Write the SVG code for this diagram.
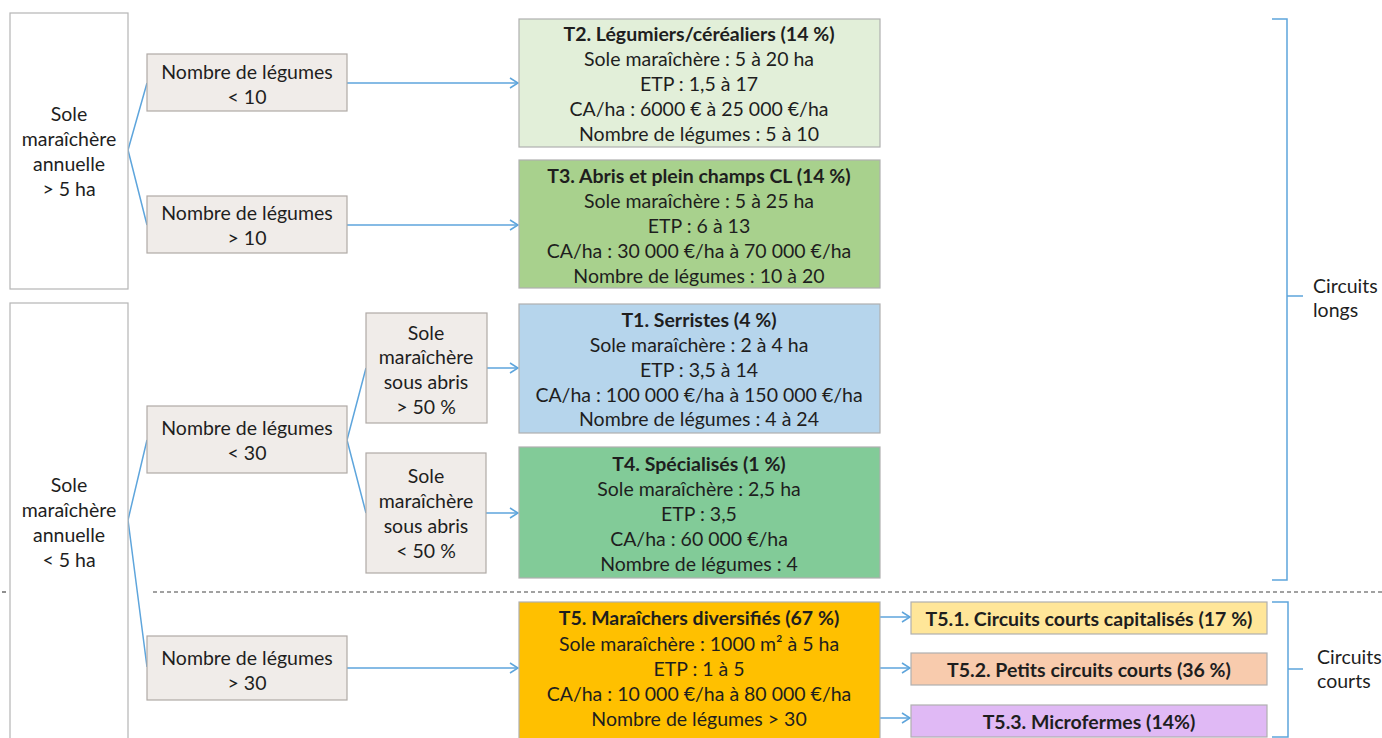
<svg xmlns="http://www.w3.org/2000/svg" width="1382" height="738" viewBox="0 0 1382 738">
<defs>
<style>
text{font-family:Lato,"Open Sans","Liberation Sans",sans-serif;font-size:19.5px;fill:#1e1e1e;text-anchor:middle;dominant-baseline:central}
.b{font-weight:bold}
.l{text-anchor:start}
.frame{fill:#fff;stroke:#b5b5b5;stroke-width:1.2}
.crit{fill:#f0ece9;stroke:#b0aaa6;stroke-width:1.2}
.type{stroke:#b0b0b0;stroke-width:1.2}
.con{fill:none;stroke:#5ea5dc;stroke-width:1.5}
.dash{stroke:#444;stroke-width:1.2;stroke-dasharray:4 3}
</style>
<marker id="arr" markerUnits="userSpaceOnUse" markerWidth="12" markerHeight="12" refX="10" refY="6" orient="auto">
<path d="M2,1 L10,6 L2,11" fill="none" stroke="#5ea5dc" stroke-width="1.5"/>
</marker>
</defs>
<rect width="1382" height="738" fill="#fff"/>
<line class="dash" x1="153" y1="592" x2="1382" y2="592"/>
<line class="dash" x1="2" y1="592" x2="8" y2="592"/>

<g id="connectors">
<path class="con" d="M128,150 L147,83 M128,150 L147,225"/>
<path class="con" d="M128,520 L147,440 M128,520 L147,667"/>
<path class="con" d="M347,440 L366,368 M347,440 L366,513"/>
<path class="con" d="M347,83 L518,83" marker-end="url(#arr)"/>
<path class="con" d="M347,225 L518,225" marker-end="url(#arr)"/>
<path class="con" d="M487,368 L518,368" marker-end="url(#arr)"/>
<path class="con" d="M486,513 L518,513" marker-end="url(#arr)"/>
<path class="con" d="M347,668 L518,668" marker-end="url(#arr)"/>
<path class="con" d="M880,617 L910,617" marker-end="url(#arr)"/>
<path class="con" d="M880,668 L910,668" marker-end="url(#arr)"/>
<path class="con" d="M880,718 L910,718" marker-end="url(#arr)"/>
<path class="con" d="M1272,19 L1287,19 L1287,580 L1272,580 M1287,296 L1303,296"/>
<path class="con" d="M1272,602 L1288,602 L1288,737 L1272,737 M1288,669 L1303,669"/>
</g>

<g id="soleA">
<rect class="frame" x="10" y="13" width="118" height="276"/>
<text x="69" y="113">Sole</text>
<text x="69" y="138">maraîchère</text>
<text x="69" y="163">annuelle</text>
<text x="69" y="188">&gt; 5 ha</text>
</g>
<g id="soleB">
<rect class="frame" x="10" y="303" width="118" height="445"/>
<text x="69" y="484">Sole</text>
<text x="69" y="509">maraîchère</text>
<text x="69" y="534">annuelle</text>
<text x="69" y="559">&lt; 5 ha</text>
</g>

<g id="nl10">
<rect class="crit" x="147" y="54" width="200" height="57"/>
<text x="247" y="71">Nombre de légumes</text>
<text x="247" y="96">&lt; 10</text>
</g>
<g id="ng10">
<rect class="crit" x="147" y="196" width="200" height="57"/>
<text x="247" y="212">Nombre de légumes</text>
<text x="247" y="237">&gt; 10</text>
</g>
<g id="nl30">
<rect class="crit" x="147" y="406" width="200" height="67"/>
<text x="247" y="427">Nombre de légumes</text>
<text x="247" y="452">&lt; 30</text>
</g>
<g id="ng30">
<rect class="crit" x="147" y="636" width="200" height="64"/>
<text x="247" y="657">Nombre de légumes</text>
<text x="247" y="682">&gt; 30</text>
</g>
<g id="abris50plus">
<rect class="crit" x="366" y="313" width="121" height="110"/>
<text x="426" y="332">Sole</text>
<text x="426" y="356">maraîchère</text>
<text x="426" y="381">sous abris</text>
<text x="426" y="406">&gt; 50 %</text>
</g>
<g id="abris50minus">
<rect class="crit" x="366" y="453" width="120" height="120"/>
<text x="426" y="475">Sole</text>
<text x="426" y="500">maraîchère</text>
<text x="426" y="525">sous abris</text>
<text x="426" y="550">&lt; 50 %</text>
</g>

<g id="T2">
<rect class="type" x="519" y="19" width="361" height="128" fill="#e2efd9"/>
<text class="b" x="699" y="33">T2. Légumiers/céréaliers (14 %)</text>
<text x="699" y="58">Sole maraîchère : 5 à 20 ha</text>
<text x="699" y="83">ETP : 1,5 à 17</text>
<text x="699" y="108">CA/ha : 6000 € à 25 000 €/ha</text>
<text x="699" y="133">Nombre de légumes : 5 à 10</text>
</g>
<g id="T3">
<rect class="type" x="519" y="160" width="361" height="128" fill="#a8d18d"/>
<text class="b" x="699" y="175">T3. Abris et plein champs CL (14 %)</text>
<text x="699" y="200">Sole maraîchère : 5 à 25 ha</text>
<text x="699" y="225">ETP : 6 à 13</text>
<text x="699" y="250">CA/ha : 30 000 €/ha à 70 000 €/ha</text>
<text x="699" y="275">Nombre de légumes : 10 à 20</text>
</g>
<g id="T1">
<rect class="type" x="519" y="304" width="361" height="129" fill="#b6d5ec"/>
<text class="b" x="699" y="319">T1. Serristes (4 %)</text>
<text x="699" y="344">Sole maraîchère : 2 à 4 ha</text>
<text x="699" y="369">ETP : 3,5 à 14</text>
<text x="699" y="394">CA/ha : 100 000 €/ha à 150 000 €/ha</text>
<text x="699" y="418">Nombre de légumes : 4 à 24</text>
</g>
<g id="T4">
<rect class="type" x="519" y="447" width="361" height="131" fill="#82cb98"/>
<text class="b" x="699" y="463">T4. Spécialisés (1 %)</text>
<text x="699" y="488">Sole maraîchère : 2,5 ha</text>
<text x="699" y="513">ETP : 3,5</text>
<text x="699" y="538">CA/ha : 60 000 €/ha</text>
<text x="699" y="563">Nombre de légumes : 4</text>
</g>
<g id="T5">
<rect class="type" x="519" y="602" width="361" height="146" fill="#ffc000"/>
<text class="b" x="699" y="617">T5. Maraîchers diversifiés (67 %)</text>
<text x="699" y="643">Sole maraîchère : 1000 m² à 5 ha</text>
<text x="699" y="668">ETP : 1 à 5</text>
<text x="699" y="693">CA/ha : 10 000 €/ha à 80 000 €/ha</text>
<text x="699" y="718">Nombre de légumes &gt; 30</text>
</g>
<g id="T51">
<rect class="type" x="911" y="602" width="356" height="32" fill="#ffe699"/>
<text class="b" x="1089" y="618">T5.1. Circuits courts capitalisés (17 %)</text>
</g>
<g id="T52">
<rect class="type" x="911" y="653" width="356" height="32" fill="#f8cbad"/>
<text class="b" x="1089" y="669">T5.2. Petits circuits courts (36 %)</text>
</g>
<g id="T53">
<rect class="type" x="911" y="705" width="356" height="32" fill="#e0b9f5"/>
<text class="b" x="1089" y="721">T5.3. Microfermes (14%)</text>
</g>
<g id="circuitsLongs">
<text class="l" x="1313" y="285">Circuits</text>
<text class="l" x="1313" y="309">longs</text>
</g>
<g id="circuitsCourts">
<text class="l" x="1317" y="656">Circuits</text>
<text class="l" x="1317" y="680">courts</text>
</g>
</svg>
